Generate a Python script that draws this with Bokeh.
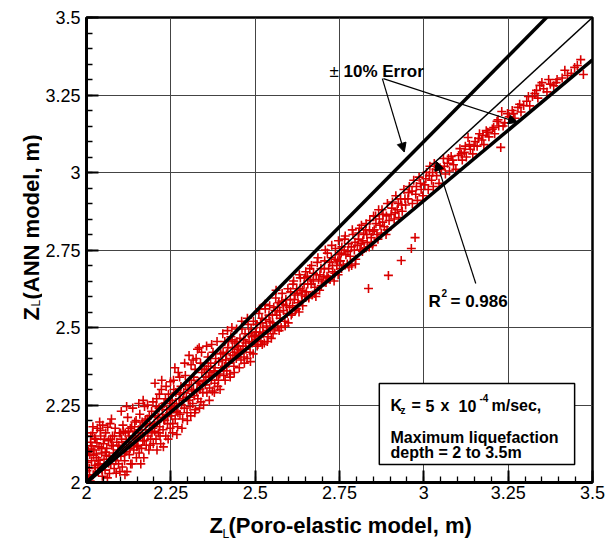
import math
from bokeh.plotting import figure
from bokeh.layouts import row, column
from bokeh.models import Range1d, FixedTicker, Label, Arrow, NormalHead, BoxAnnotation
from bokeh.core.properties import value
from bokeh.embed import file_html
from bokeh.resources import INLINE

# ---------------- data ----------------
zl_poro = [
    2.005,2.008,2.010,2.012,2.015,2.018,2.020,2.022,2.025,2.027,2.030,2.032,2.035,2.037,2.040,2.042,2.045,2.047,2.048,2.050,2.003,2.013,
    2.052,2.055,2.057,2.060,2.062,2.065,2.067,2.068,2.070,2.072,2.075,2.077,2.080,2.082,2.085,2.087,2.090,2.093,2.095,2.098,
    2.102,2.104,2.106,2.108,2.110,2.113,2.115,2.117,2.120,2.122,2.125,2.127,2.130,2.132,2.135,2.138,2.140,2.143,2.146,2.148,
    2.152,2.154,2.156,2.158,2.160,2.163,2.165,2.167,2.170,2.172,2.175,2.177,2.180,2.182,2.185,2.188,2.190,2.193,2.196,2.198,
    2.202,2.204,2.206,2.208,2.210,2.213,2.215,2.217,2.220,2.222,2.225,2.227,2.230,2.232,2.235,2.238,2.240,2.243,2.246,2.248,
    2.252,2.254,2.256,2.258,2.260,2.263,2.265,2.267,2.270,2.272,2.275,2.277,2.280,2.282,2.285,2.288,2.290,2.293,2.296,2.298,
    2.302,2.305,2.307,2.310,2.312,2.315,2.318,2.320,2.323,2.325,2.328,2.330,2.334,2.336,2.339,2.342,2.345,2.348,
    2.352,2.355,2.357,2.360,2.362,2.365,2.368,2.370,2.373,2.375,2.378,2.380,2.383,2.386,2.389,2.392,2.395,2.398,
    2.402,2.405,2.407,2.410,2.413,2.416,2.419,2.422,2.425,2.428,2.431,2.434,2.437,2.440,2.444,2.448,
    2.452,2.455,2.458,2.461,2.464,2.467,2.470,2.473,2.476,2.479,2.482,2.485,2.488,2.491,2.494,2.497,
    2.502,2.505,2.508,2.511,2.514,2.517,2.520,2.524,2.527,2.530,2.534,2.538,2.541,2.545,2.548,
    2.552,2.555,2.558,2.561,2.564,2.567,2.570,2.574,2.577,2.580,2.584,2.588,2.591,2.595,2.598,
    2.602,2.605,2.609,2.612,2.616,2.619,2.623,2.627,2.630,2.634,2.638,2.641,2.645,2.648,
    2.652,2.655,2.659,2.662,2.666,2.669,2.673,2.677,2.680,2.684,2.688,2.691,2.695,2.698,
    2.703,2.706,2.710,2.714,2.718,2.722,2.726,2.730,2.734,2.738,2.742,2.746,2.749,
    2.753,2.757,2.761,2.765,2.769,2.773,2.777,2.782,2.786,2.790,2.794,2.798,
    2.803,2.807,2.811,2.815,2.819,2.823,2.827,2.832,2.836,2.840,2.844,2.848,
    2.853,2.857,2.861,2.866,2.870,2.874,2.879,2.883,2.888,2.892,2.895,2.897,
    2.903,2.907,2.912,2.917,2.921,2.926,2.931,2.933,2.936,2.941,2.946,
    2.953,2.957,2.963,2.966,2.970,2.974,2.976,2.981,2.986,2.992,2.997,
    3.003,3.008,3.013,3.018,3.023,3.028,3.031,3.038,3.045,
    3.052,3.058,3.064,3.070,3.076,3.081,3.088,3.095,
    3.103,3.107,3.114,3.120,3.126,3.131,3.138,3.145,
    3.152,3.158,3.165,3.172,3.178,3.185,3.193,
    3.203,3.210,3.217,3.222,3.228,3.231,3.240,
    3.253,3.262,3.270,3.279,3.288,3.296,
    3.305,3.314,3.322,3.329,3.338,3.344,
    3.355,3.365,3.375,3.385,3.395,
    3.410,3.426,3.437,3.447,3.465,3.473,
    # second pass over the cloud
    2.001,2.006,2.011,2.016,2.021,2.026,2.031,2.036,2.041,2.046,2.056,2.063,2.071,2.079,2.088,2.096,
    2.101,2.107,2.112,2.118,2.124,2.129,2.134,2.141,2.147,2.153,2.159,2.166,2.171,2.178,2.186,2.194,
    2.201,2.207,2.212,2.218,2.224,2.229,2.234,2.241,2.247,2.253,2.259,2.266,2.271,2.278,2.286,2.294,
    2.301,2.306,2.311,2.317,2.322,2.327,2.333,2.338,2.344,2.349,2.354,2.361,2.366,2.372,2.381,2.391,
    2.403,2.409,2.415,2.421,2.427,2.433,2.439,2.446,2.451,2.457,2.466,2.472,2.481,2.490,
    2.503,2.510,2.516,2.523,2.531,2.537,2.544,2.551,2.559,2.566,2.573,2.583,2.593,
    2.604,2.611,2.618,2.626,2.633,2.640,2.647,2.656,2.664,2.672,2.681,2.692,
    2.705,2.713,2.721,2.729,2.737,2.745,2.755,2.764,2.775,2.785,2.796,
    2.806,2.814,2.822,2.831,2.839,2.849,2.858,2.868,2.878,2.889,
    2.905,2.915,2.924,2.934,2.944,2.955,2.965,2.978,2.990,
    3.006,3.016,3.026,3.036,3.048,3.061,3.073,3.086,
    3.111,3.123,3.135,3.149,3.162,3.175,3.189,
    3.207,3.220,3.235,3.248,3.266,3.284,
    3.310,3.334,3.350,3.370,3.392,3.418,3.455,
    # third pass (outer parts of the cloud)
    2.004,2.009,2.014,2.019,2.024,2.029,2.034,2.039,2.044,2.053,2.059,2.066,2.074,2.083,2.091,2.099,
    2.103,2.109,2.114,2.119,2.126,2.131,2.137,2.142,2.149,2.155,2.161,2.168,2.174,2.181,2.189,2.197,
    2.203,2.209,2.216,2.223,2.228,2.236,2.242,2.249,2.255,2.262,2.268,2.276,2.283,2.291,2.299,
    2.304,2.309,2.316,2.321,2.329,2.335,2.341,2.347,2.356,2.364,2.371,2.379,2.387,2.396,
    2.404,2.411,2.418,2.426,2.432,2.438,2.445,2.453,2.460,2.468,2.477,2.486,2.495,
    2.506,2.513,2.521,2.529,2.536,2.543,2.553,2.562,2.571,2.579,2.589,2.597,
    2.607,2.614,2.622,2.631,2.639,2.650,2.658,2.667,2.676,2.686,2.696,
    2.708,2.717,2.727,2.736,2.747,2.756,2.767,2.778,2.788,2.797,
    2.809,2.818,2.829,2.838,2.851,2.864,2.876,2.891,
]
zl_ann = [
    2.012,2.045,2.090,2.130,2.070,2.160,2.025,2.105,2.055,2.140,2.080,2.175,2.035,2.115,2.060,2.150,2.095,2.020,2.185,2.125,2.065,2.150,
    2.075,2.040,2.160,2.110,2.015,2.135,2.085,2.029,2.190,2.060,2.120,2.150,2.095,2.045,2.175,2.070,2.130,2.105,2.060,2.160,
    2.085,2.140,2.050,2.185,2.115,2.070,2.160,2.100,2.035,2.210,2.130,2.090,2.175,2.120,2.060,2.150,2.105,2.195,2.140,2.080,
    2.120,2.170,2.095,2.220,2.150,2.110,2.195,2.135,2.080,2.245,2.170,2.120,2.205,2.150,2.105,2.185,2.140,2.230,2.175,2.125,
    2.165,2.215,2.140,2.270,2.195,2.160,2.240,2.180,2.125,2.300,2.220,2.170,2.255,2.200,2.150,2.235,2.190,2.285,2.225,2.175,
    2.215,2.265,2.190,2.330,2.245,2.205,2.290,2.230,2.180,2.355,2.270,2.220,2.310,2.250,2.205,2.290,2.240,2.345,2.275,2.225,
    2.265,2.315,2.245,2.380,2.295,2.255,2.340,2.280,2.235,2.400,2.320,2.270,2.435,2.300,2.260,2.355,2.290,2.330,
    2.315,2.365,2.290,2.405,2.340,2.305,2.385,2.330,2.295,2.420,2.360,2.320,2.400,2.345,2.310,2.390,2.350,2.415,
    2.370,2.420,2.345,2.455,2.395,2.360,2.435,2.385,2.350,2.470,2.500,2.410,2.375,2.450,2.400,2.430,
    2.415,2.465,2.395,2.495,2.440,2.405,2.480,2.430,2.400,2.510,2.455,2.420,2.495,2.450,2.415,2.475,
    2.460,2.510,2.445,2.545,2.485,2.455,2.530,2.480,2.450,2.560,2.505,2.470,2.540,2.495,2.465,
    2.515,2.565,2.495,2.595,2.540,2.505,2.580,2.530,2.500,2.610,2.555,2.520,2.590,2.545,2.515,
    2.565,2.615,2.545,2.640,2.590,2.555,2.625,2.580,2.550,2.660,2.605,2.570,2.640,2.600,
    2.615,2.665,2.595,2.690,2.640,2.605,2.675,2.630,2.600,2.710,2.655,2.620,2.690,2.650,
    2.665,2.715,2.645,2.740,2.690,2.655,2.725,2.680,2.650,2.755,2.700,2.670,2.735,
    2.715,2.760,2.700,2.785,2.735,2.705,2.770,2.730,2.700,2.800,2.750,2.720,
    2.765,2.805,2.750,2.830,2.780,2.755,2.815,2.775,2.626,2.845,2.790,2.765,
    2.815,2.860,2.800,2.880,2.830,2.805,2.865,2.825,2.800,2.900,2.668,2.845,
    2.865,2.905,2.850,2.925,2.880,2.855,2.915,2.716,2.875,2.945,2.895,
    2.915,2.955,2.755,2.900,2.975,2.790,2.930,2.910,2.985,2.945,2.925,
    2.960,3.000,2.945,3.020,2.975,2.955,3.029,2.990,2.965,
    3.010,3.045,2.995,3.030,3.005,3.052,3.025,3.010,
    3.055,3.077,3.040,3.065,3.050,3.113,3.075,3.060,
    3.100,3.085,3.125,3.105,3.090,3.135,3.115,
    3.140,3.125,3.165,3.150,3.081,3.197,3.160,
    3.180,3.200,3.175,3.210,3.195,3.216,
    3.230,3.215,3.245,3.255,3.240,3.281,
    3.270,3.260,3.285,3.280,3.300,
    3.305,3.313,3.320,3.339,3.364,3.316,
    # second pass over the cloud
    2.038,2.100,2.005,2.118,2.088,2.048,2.128,2.072,2.168,2.040,2.098,2.178,2.140,2.118,2.030,2.120,
    2.160,2.115,2.095,2.132,2.165,2.110,2.180,2.125,2.200,2.145,2.180,2.160,2.135,2.190,2.215,2.160,
    2.190,2.245,2.210,2.150,2.245,2.205,2.270,2.215,2.255,2.240,2.300,2.255,2.225,2.285,2.265,2.315,
    2.300,2.275,2.330,2.300,2.365,2.295,2.325,2.385,2.315,2.365,2.340,2.375,2.355,2.345,2.370,2.330,
    2.395,2.375,2.415,2.455,2.400,2.435,2.420,2.455,2.440,2.425,2.460,2.450,2.480,2.470,
    2.485,2.470,2.515,2.500,2.525,2.490,2.520,2.540,2.555,2.565,2.550,2.575,2.570,
    2.590,2.570,2.605,2.610,2.625,2.620,2.660,2.640,2.655,2.650,2.670,2.670,
    2.690,2.665,2.710,2.700,2.720,2.715,2.740,2.750,2.745,2.760,2.775,
    2.785,2.770,2.800,2.800,2.815,2.810,2.835,2.850,2.840,2.860,
    2.885,2.870,2.900,2.895,2.915,2.935,2.940,2.955,2.965,
    2.980,2.990,3.000,3.010,3.015,3.020,3.045,3.040,
    3.060,3.085,3.090,3.085,3.110,3.120,3.130,
    3.145,3.170,3.150,3.190,3.190,3.220,
    3.245,3.265,3.290,3.300,3.290,3.330,3.345,
    # third pass (outer parts of the cloud)
    2.098,2.023,2.108,2.180,2.142,2.092,2.058,2.195,2.110,2.140,2.088,2.062,2.205,2.150,2.085,2.035,
    2.230,2.165,2.025,2.245,2.150,2.060,2.240,2.165,2.115,2.255,2.060,2.265,2.200,2.250,2.120,2.260,
    2.320,2.105,2.285,2.330,2.115,2.310,2.140,2.325,2.160,2.370,2.155,2.340,2.175,2.385,2.200,
    2.410,2.215,2.395,2.225,2.430,2.240,2.420,2.250,2.440,2.265,2.445,2.290,2.455,2.300,
    2.480,2.330,2.490,2.340,2.460,2.355,2.495,2.370,2.520,2.385,2.530,2.390,2.520,
    2.440,2.560,2.445,2.575,2.455,2.570,2.480,2.620,2.490,2.585,2.505,2.625,
    2.540,2.650,2.560,2.670,2.585,2.680,2.600,2.700,2.610,2.725,2.635,
    2.750,2.660,2.765,2.675,2.780,2.690,2.795,2.695,2.815,2.705,
    2.820,2.745,2.835,2.760,2.860,2.785,2.880,2.815,
]

axis_min, axis_max = 2.0, 3.5
tick_values = [2.0, 2.25, 2.5, 2.75, 3.0, 3.25, 3.5]
tick_labels = ["2", "2.25", "2.5", "2.75", "3", "3.25", "3.5"]
minor_step = 0.05
error_factor = 1.10          # +/- 10 % error band
r_squared = "0.986"

# reference lines (1:1 and +/-10 %)
ref_x = [axis_min, axis_max]
line_equal = [axis_min, axis_max]
line_plus = [axis_min, axis_min + (axis_max - axis_min) * error_factor]
line_minus = [axis_min, axis_min + (axis_max - axis_min) / error_factor]

FONT = "Liberation Sans"

# ---------------- layout geometry ----------------
W, H = 605, 541
YLAB_W = 42          # strip holding the rotated y label
MAIN_H = 509         # main plot height (x label strip below)
XLAB_H = H - MAIN_H
FRAME_L, FRAME_B = 84, 482   # page coordinates of the frame's bottom-left

# ---------------- main figure ----------------
p = figure(width=W - YLAB_W, height=MAIN_H, x_range=Range1d(axis_min, axis_max),
           y_range=Range1d(axis_min, axis_max), output_backend="svg",
           toolbar_location=None, min_border_left=FRAME_L - YLAB_W, min_border_right=13,
           min_border_top=17, min_border_bottom=MAIN_H - FRAME_B)
p.background_fill_color = "white"
p.border_fill_color = "white"
p.outline_line_color = "black"
p.outline_line_width = 2.5

minor = []
v = axis_min
while v < axis_max + 1e-9:
    minor.append(round(v, 2))
    v += minor_step

for ax in (p.xaxis[0], p.yaxis[0]):
    ax.ticker = FixedTicker(ticks=tick_values, minor_ticks=minor)
    ax.major_label_overrides = {t: l for t, l in zip(tick_values, tick_labels)}
    ax.axis_line_width = 3
    ax.axis_line_color = "black"
    ax.major_tick_in = 12
    ax.major_tick_out = 0
    ax.minor_tick_in = 6
    ax.minor_tick_out = 0
    ax.major_tick_line_width = 2
    ax.minor_tick_line_width = 1.3
    ax.major_tick_line_color = "black"
    ax.minor_tick_line_color = "black"
    ax.major_label_text_font = FONT
    ax.major_label_text_font_size = "18px"
    ax.major_label_text_color = "black"
    ax.axis_label = None
p.xaxis[0].major_label_standoff = 3
p.yaxis[0].major_label_standoff = 6

p.grid.grid_line_color = "#444444"
p.grid.grid_line_width = 1

p.scatter(zl_poro, zl_ann, marker="cross", size=9, line_color="#d90000",
          line_width=1.6)

p.line(ref_x, line_plus, line_color="black", line_width=3.5)
p.line(ref_x, line_equal, line_color="black", line_width=1.5)
p.line(ref_x, line_minus, line_color="black", line_width=3.5)


def arrow(x0, y0, x1, y1):
    p.add_layout(Arrow(end=NormalHead(size=9, fill_color="black", line_color="black", line_width=1),
                       x_start=x0, y_start=y0, x_end=x1, y_end=y1,
                       line_color="black", line_width=1.2))

arrow(2.877, 3.303, 2.942, 3.066)
arrow(2.880, 3.303, 3.278, 3.162)
arrow(3.154, 2.642, 3.037, 3.036)

p.add_layout(BoxAnnotation(left=2.868, right=3.447, bottom=2.058, top=2.319,
                           fill_color="white", fill_alpha=1.0,
                           line_color="black", line_width=1.5, line_alpha=1.0))


def lab(fig, text, sx, sy, size, bold=True, angle=0.0):
    fig.add_layout(Label(x=sx, y=sy, x_units="screen", y_units="screen",
                         text=text, text_font=FONT, text_font_size=f"{size}px",
                         text_font_style="bold" if bold else "normal",
                         text_color="black", text_align="left",
                         text_baseline="alphabetic", angle=angle))

def plab(text, px, py, size, bold=True):
    lab(p, text, px - FRAME_L, FRAME_B - py, size, bold)

plab("\u00b1", 327, 71, 17, bold=False)
plab("10% Error", 341, 71, 17)
plab("R", 426, 301, 17)
plab("2", 439, 292, 10)
plab("= " + r_squared, 448, 301, 17)
plab("K", 388, 405, 16)
plab("z", 398, 410, 10)
plab("=", 409, 405, 16)
plab("5", 423, 405, 16)
plab("x", 438, 405, 16)
plab("10", 456, 405, 16)
plab("-4", 477, 397, 10)
plab("m/sec,", 489, 405, 16)
plab("Maximum liquefaction", 388, 437, 16)
plab("depth = 2 to 3.5m", 388, 452, 16)


# ---------------- axis title strips ----------------
def strip(w, h):
    f = figure(width=w, height=h, x_range=Range1d(0, w), y_range=Range1d(0, h),
               output_backend="svg", toolbar_location=None, min_border=0,
               x_axis_location=None, y_axis_location=None)
    f.grid.visible = False
    f.outline_line_color = None
    f.background_fill_color = "white"
    f.border_fill_color = "white"
    return f

ylab = strip(YLAB_W, MAIN_H)
ang = math.pi / 2
lab(ylab, "Z", 31, MAIN_H - 347, 22, angle=ang)
lab(ylab, "L", 35, MAIN_H - 333, 12, bold=False, angle=ang)
lab(ylab, "(ANN model, m)", 31, MAIN_H - 326, 22, angle=ang)

xlab = strip(W, XLAB_H)
lab(xlab, "Z", 209, H - 525, 22)
lab(xlab, "L", 222, H - 533, 12, bold=False)
lab(xlab, "(Poro-elastic model, m)", 228, H - 525, 22)

layout = column(row(ylab, p, spacing=0), xlab, spacing=0)
open("out.html", "w").write(file_html(layout, INLINE))
